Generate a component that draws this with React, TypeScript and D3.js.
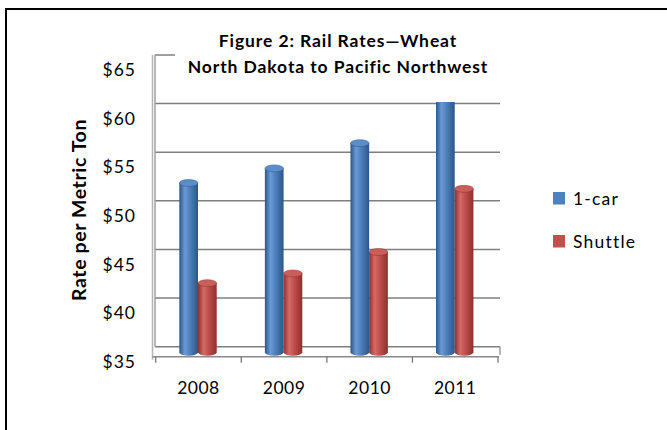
import * as d3 from "d3";

const years = ["2008", "2009", "2010", "2011"];
const seriesNames = ["1-car", "Shuttle"];
const oneCar = [52.4, 53.9, 56.5, 61.5];
const shuttle = [42.1, 43.1, 45.3, 51.8];
const yTicks = [35, 40, 45, 50, 55, 60, 65];
const titleLines = ["Figure 2: Rail Rates\u2014Wheat", "North Dakota to Pacific Northwest"];

const W = 667;
const H = 430;
const font = "Lato, 'Open Sans', sans-serif";

const colors: Record<string, { dark: string; mid: string; light: string; top: string; flat: string }> = {
  "1-car": { dark: "#2d5689", mid: "#4f81bd", light: "#6a9ad6", top: "#5c8dcb", flat: "#4f81bd" },
  Shuttle: { dark: "#8c302d", mid: "#c0504d", light: "#d56a66", top: "#c85f5b", flat: "#c0504d" },
};

// depth offset of the 3D floor: back wall sits up/right of the front edge
const depthY = 10;

const App = () => {
  const x0 = d3.scaleBand<string>().domain(years).range([155.7, 498]);
  const x1 = d3.scaleBand<string>().domain(seriesNames).range([23.6, 61]);
  // back-wall value scale
  const yBack = d3.scaleLinear().domain([35, 65]).range([346.7, 55]);
  const yBar = (v: number) => yBack(v) + 5.5;

  const data = years.map((year, i) => ({
    year,
    values: [
      { key: "1-car", value: oneCar[i] },
      { key: "Shuttle", value: shuttle[i] },
    ],
  }));

  const ry = 3.5;

  return (
    <svg width={W} height={H} style={{ position: "absolute", left: 0, top: 0 }}>
      <defs>
        {seriesNames.map((s, i) => (
          <linearGradient key={s} id={`grad${i}`} x1="0" x2="1" y1="0" y2="0">
            <stop offset="0%" stopColor={colors[s].dark} />
            <stop offset="30%" stopColor={colors[s].light} />
            <stop offset="55%" stopColor={colors[s].mid} />
            <stop offset="100%" stopColor={colors[s].dark} />
          </linearGradient>
        ))}
      </defs>
      <rect width={W} height={H} fill="#fff" />

      {/* outer frame (only top and left visible) */}
      <line x1={5} x2={W} y1={9} y2={9} stroke="#000" strokeWidth={2} />
      <line x1={6} x2={6} y1={8} y2={H} stroke="#000" strokeWidth={2} />

      {/* back wall gridlines */}
      {yTicks.map((t) => (
        <line key={t} x1={155} x2={500} y1={yBack(t)} y2={yBack(t)} stroke="#7f7f7f" strokeWidth={1.5} />
      ))}
      {/* left wall */}
      <line x1={155} x2={155} y1={yBack(65)} y2={yBack(35)} stroke="#a0a0a0" strokeWidth={1.5} />
      <line x1={152.5} x2={152.5} y1={yBack(65)} y2={yBack(35) + depthY + 3} stroke="#b4b4b4" strokeWidth={1.5} />
      {/* right wall edge and floor */}
      <line x1={500} x2={500} y1={yBack(35)} y2={yBack(35) + 8} stroke="#9a9a9a" strokeWidth={1.5} />
      <line x1={152.5} x2={499} y1={yBack(35) + depthY} y2={yBack(35) + depthY} stroke="#8a8a8a" strokeWidth={1.5} />
      {years.map((yr) => (
        <line key={yr} x1={x0(yr)!} x2={x0(yr)!} y1={yBack(35) + depthY} y2={yBack(35) + depthY + 6} stroke="#6e6e6e" strokeWidth={1.2} />
      ))}
      <line x1={498} x2={498} y1={yBack(35) + depthY} y2={yBack(35) + depthY + 6} stroke="#6e6e6e" strokeWidth={1.2} />

      {/* cylinders */}
      {data.map((d) => (
        <g key={d.year} transform={`translate(${x0(d.year)},0)`}>
          {d.values.map((v, i) => {
            const x = x1(v.key)!;
            const w = x1.bandwidth();
            const yt = yBar(v.value);
            const yb = yBar(35);
            const body = `M${x},${yt} L${x},${yb} A${w / 2},${ry} 0 0 0 ${x + w},${yb} L${x + w},${yt} Z`;
            return (
              <g key={v.key}>
                <path d={body} fill={`url(#grad${i})`} />
                <ellipse cx={x + w / 2} cy={yt} rx={w / 2} ry={ry} fill={colors[v.key].top} stroke={colors[v.key].dark} strokeWidth={0.5} />
              </g>
            );
          })}
        </g>
      ))}

      {/* title box overlays plot */}
      <rect x={175} y={14} width={330} height={88} fill="#fff" />
      <g fontFamily={font} fontWeight="bold" fontSize={17.5} letterSpacing={0.9} textAnchor="middle" fill="#000">
        {titleLines.map((l, i) => (
          <text key={i} x={338} y={47 + i * 25.5}>
            {l}
          </text>
        ))}
      </g>

      {/* y tick labels */}
      <g fontFamily={font} fontSize={17.5} letterSpacing={1} textAnchor="end" fill="#000">
        {yTicks.map((t) => (
          <text key={t} x={136} y={yBack(t) + 15} dy="0.35em">
            {d3.format("$")(t).replace(".00", "")}
          </text>
        ))}
      </g>

      {/* y axis title */}
      <text
        transform={`translate(86,210) rotate(-90)`}
        fontFamily={font}
        fontWeight="bold"
        fontSize={19.5}
        letterSpacing={0.6}
        textAnchor="middle"
        fill="#000"
      >
        Rate per Metric Ton
      </text>

      {/* x labels */}
      <g fontFamily={font} fontSize={17.5} letterSpacing={0.5} textAnchor="middle" fill="#000">
        {years.map((yr) => (
          <text key={yr} x={x0(yr)! + x0.bandwidth() / 2} y={388} dy="0.35em">
            {yr}
          </text>
        ))}
      </g>

      {/* legend */}
      <g fontFamily={font} fontSize={17.5} letterSpacing={1.2} fill="#000">
        {seriesNames.map((s, i) => (
          <g key={s} transform={`translate(553,${192 + i * 43})`}>
            <rect width={12} height={12.5} fill={colors[s].flat} />
            <text x={20} y={6.5} dy="0.35em">
              {s}
            </text>
          </g>
        ))}
      </g>
    </svg>
  );
};

export default App;
